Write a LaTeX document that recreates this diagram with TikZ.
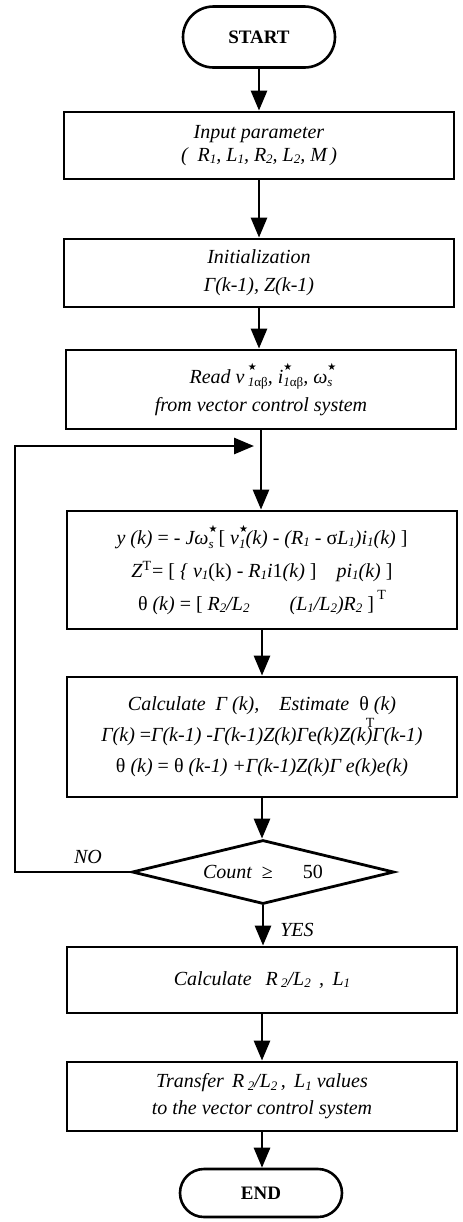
\documentclass[tikz,border=0pt]{standalone}
\usepackage{fontspec}
\setmainfont{Liberation Serif}
\newfontfamily\symfnt{DejaVu Sans}
\usetikzlibrary{shapes.geometric,shapes.misc,arrows.meta}
\newcommand\lo[1]{\raisebox{-0.25ex}{\fontsize{6.5}{6.5}\selectfont #1}}
\newcommand\mystar{{\symfnt\fontsize{5}{5}\selectfont ★}}
\newcommand\supsub[2]{\makebox[0pt][l]{\raisebox{1.35ex}{#1}}\raisebox{-0.4ex}{\fontsize{6.5}{6.5}\selectfont #2}}
\newcommand\up[1]{{\upshape #1}}
\begin{document}
\begin{tikzpicture}[x=0.5pt,y=-0.5pt,
  box/.style={draw, line width=1.4pt, minimum width=195pt, align=center,
    inner sep=0pt, font=\fontsize{10}{14}\selectfont\itshape},
  term/.style={draw, rounded rectangle, line width=1.3pt, inner sep=0pt,
    font=\fontsize{9.5}{11}\selectfont\bfseries},
  decision/.style={draw, diamond, line width=1.4pt, inner sep=0pt,
    minimum width=131pt, minimum height=32pt, aspect=4,
    font=\fontsize{10}{12}\selectfont},
  arr/.style={line width=1.4pt, -{Triangle[length=10pt,width=8pt]}},
  lbl/.style={font=\fontsize{10}{12}\selectfont\itshape}]
\useasboundingbox (0,0) rectangle (462,1222);

\node[term, minimum width=76pt, minimum height=30.5pt] (start) at (259,37) {START};
\node[box, minimum height=33.5pt, font=\fontsize{10}{11.5}\selectfont\itshape] (input) at (259,145.5)
  {Input parameter\\( \ R\lo1, L\lo1, R\lo2, L\lo2, M\,)};
\node[box, minimum height=34pt] (init) at (259,273)
  {Initialization\\Γ(k-1), Z(k-1)};
\node[box, minimum height=39.5pt] (read) at (261,389.5)
  {Read v\,\supsub{\mystar}{1\up{αβ}}, i\supsub{\mystar}{1\up{αβ}}, ω\supsub{\mystar}{s}\\from vector control system};
\node[box, minimum height=59pt, font=\fontsize{10}{16.5}\selectfont\itshape] (form) at (262,570)
  {y (k) \up{=} - Jω\supsub{\mystar}{s}\ \up{[} v\supsub{\mystar}{1}(k) - (R\lo1 - \up{σ}L\lo1)i\lo1(k) \up{]}\\
   Z\textsuperscript{\up{T}}\up{=} \up{[} \{ v\lo1\up{(k)} - R\lo1i\up{1}(k) \up{]}\quad pi\lo1(k) \up{]}\\
   \up{θ} (k) \up{=} \up{[} R\lo2/L\lo2\qquad(L\lo1/L\lo2)R\lo2 \up{]}\,\raisebox{1.2ex}{\fontsize{7}{7}\selectfont\upshape T}};
\node[box, minimum height=60pt, font=\fontsize{10}{15.5}\selectfont\itshape] (calc) at (262,737)
  {Calculate\ \ Γ (k),\quad Estimate\ \ \up{θ} (k)\\
   Γ(k) \up{=}Γ(k-1) -Γ(k-1)Z(k)Γ\up{e}(k)Z(k\makebox[0pt][l]{\raisebox{1.6ex}{\fontsize{7}{7}\selectfont\upshape T}})Γ(k-1)\\
   \up{θ} (k) \up{=} \up{θ} (k-1) +Γ(k-1)Z(k)Γ e(k)e(k)};
\node[decision] (dec) at (263,872)
  {\itshape Count\hspace{5pt}\upshape ≥\hspace{15pt}50};
\node[box, minimum height=33pt] (calc2) at (262,980)
  {Calculate\hspace{7pt}R\,\lo2/L\lo2 \,, \,L\lo1};
\node[box, minimum height=34.5pt, font=\fontsize{10}{13.5}\selectfont\itshape] (transfer) at (262,1096.5)
  {Transfer\ \,R\,\lo2/L\lo2\,, \,L\lo1 values\\to the vector control system};
\node[term, minimum width=81pt, minimum height=24pt] (end) at (261,1193) {END};

\node[lbl] (no) at (88,857) {NO};
\node[lbl] (yes) at (297,930) {YES};

\draw[arr] (start.south) -- (start.south |- input.north);
\draw[arr] (input.south) -- (input.south |- init.north);
\draw[arr] (init.south) -- (init.south |- read.north);
\draw[arr] (read.south) -- (read.south |- form.north);
\draw[arr] (form.south) -- (form.south |- calc.north);
\draw[arr] (calc.south) -- (calc.south |- dec.north);
\draw[arr] (dec.south) -- (dec.south |- calc2.north);
\draw[arr] (calc2.south) -- (calc2.south |- transfer.north);
\draw[arr] (transfer.south) -- (transfer.south |- end.north);

\coordinate (lp) at (15,446);
\coordinate (jn) at (read.south |- lp);
\draw[arr, shorten >=3.5pt] (dec.west) -| (lp) -- (jn);
\end{tikzpicture}
\end{document}
